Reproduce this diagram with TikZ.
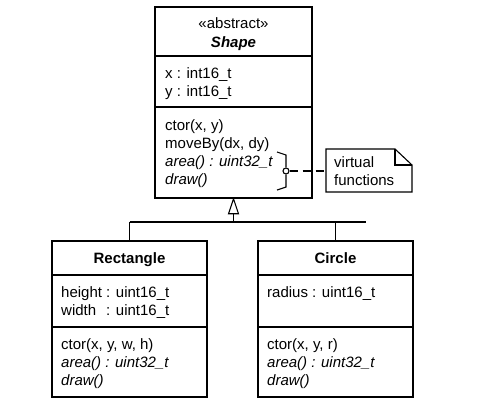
\documentclass[tikz,border=0pt]{standalone}
\usepackage{fontspec}
\setmainfont{Liberation Sans}
\begin{document}
\begin{tikzpicture}[x=1pt,y=-1pt,
  box/.style={draw=black,line width=1.5pt,inner sep=0pt},
  divider/.style={draw=black,line width=1.3pt},
  conn/.style={draw=black,line width=1.1pt},
  txt/.style={anchor=base west,inner sep=0pt,font=\fontsize{15}{18}\selectfont},
  ctxt/.style={anchor=base,inner sep=0pt,font=\fontsize{15}{18}\selectfont}]
\useasboundingbox (0,0) rectangle (481,418);
% boxes
\node[box,minimum width=157pt,minimum height=191pt] (shape) at (233.5,102.5) {};
\node[box,minimum width=155pt,minimum height=156pt] (rect) at (129.5,319) {};
\node[box,minimum width=155pt,minimum height=156pt] (circ) at (335.5,319) {};
% dividers
\draw[divider] (shape.west |- {(0,56)}) -- (shape.east |- {(0,56)});
\draw[divider] (shape.west |- {(0,107)}) -- (shape.east |- {(0,107)});
\draw[divider] (rect.west |- {(0,275)}) -- (rect.east |- {(0,275)});
\draw[divider] (rect.west |- {(0,327)}) -- (rect.east |- {(0,327)});
\draw[divider] (circ.west |- {(0,275)}) -- (circ.east |- {(0,275)});
\draw[divider] (circ.west |- {(0,327)}) -- (circ.east |- {(0,327)});
% Shape texts
\node[ctxt] (st) at (233.5,28) {«abstract»};
\node[ctxt] (sn) at (233.5,47) {\textbf{\textit{Shape}}};
\node[txt] (sa1) at (165,78) {x : int16\_t};
\node[txt] (sa2) at (165,96) {y : int16\_t};
\node[txt] (sm1) at (165,130) {ctor(x, y)};
\node[txt] (sm2) at (165,148) {moveBy(dx, dy)};
\node[txt] (sm3) at (165,166) {\textit{area() : uint32\_t}};
\node[txt] (sm4) at (165,184) {\textit{draw()}};
% Rectangle texts
\node[ctxt] (rn) at (129.5,263) {\textbf{Rectangle}};
\node[txt] (ra1) at (61,297) {height : uint16\_t};
\node[txt] (ra2) at (61,315) {\rlap{width}\hphantom{height}\ : uint16\_t};
\node[txt] (rm1) at (61,349) {ctor(x, y, w, h)};
\node[txt] (rm2) at (61,367) {\textit{area() : uint32\_t}};
\node[txt] (rm3) at (61,385) {\textit{draw()}};
% Circle texts
\node[ctxt] (cn) at (335.5,263) {\textbf{Circle}};
\node[txt] (ca1) at (267,297) {radius : uint16\_t};
\node[txt] (cm1) at (267,349) {ctor(x, y, r)};
\node[txt] (cm2) at (267,367) {\textit{area() : uint32\_t}};
\node[txt] (cm3) at (267,385) {\textit{draw()}};
% generalization
\coordinate (tbase) at (233.5,213);
\coordinate (bus) at (233.5,222);
\coordinate (busL) at (129.5,222);
\coordinate (busR) at (366,222);
\draw[conn,line join=miter] (shape.south) -- ++(-5,15) -- ++(10,0) -- cycle;
\draw[conn] (tbase) -- (bus);
\draw[conn] (busL) -- (busR);
\draw[conn] (rect.north) -- (rect.north |- bus);
\draw[conn] (circ.north) -- (circ.north |- bus);
% bracket and lollipop
\node[draw=black,line width=1.1pt,circle,minimum size=6pt,inner sep=0pt] (lol) at (286,171) {};
\draw[conn] (lol.north) -- (286,155) -- (277,152);
\draw[conn] (lol.south) -- (286,187) -- (277,190);
% note
\coordinate (n1) at (326,149);
\coordinate (n2) at (395,149);
\coordinate (n3) at (412,165);
\coordinate (n4) at (412,192);
\coordinate (n5) at (326,192);
\draw[conn,line join=miter] (n1) -- (n2) -- (n3) -- (n4) -- (n5) -- cycle;
\draw[conn] (n2) -- (395,165) -- (n3);
\node[txt] (nt1) at (334,167) {virtual};
\node[txt] (nt2) at (334,185) {functions};
\coordinate (nw) at (326,171);
\draw[black,line width=2pt,dash pattern=on 8pt off 5pt] (lol.east) -- (nw);
\end{tikzpicture}
\end{document}
